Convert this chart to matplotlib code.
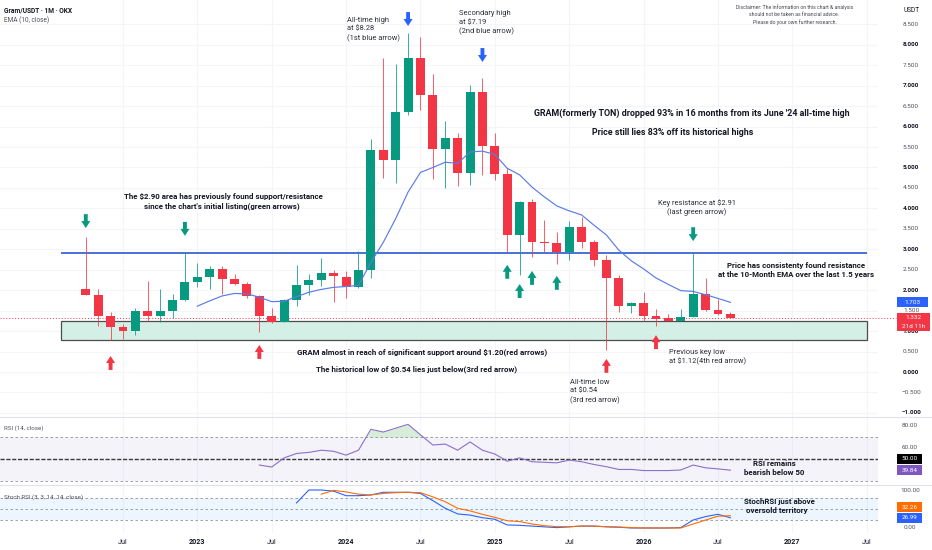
import numpy as np
import pandas as pd
import matplotlib
matplotlib.use('Agg')
import matplotlib.pyplot as plt
from matplotlib import transforms
from matplotlib.patches import Rectangle
from matplotlib.lines import Line2D

plt.rcParams['font.family'] = ['Roboto', 'DejaVu Sans']

# ---------------- data (monthly candles, Apr 2022 .. Aug 2026) ----------------
start_month = '2022-04'
opens = [2.03, 1.88, 1.37, 1.10, 1.00, 1.49, 1.37, 1.50, 1.76, 2.20, 2.32, 2.52, 2.27, 2.15, 1.86, 1.37,
         1.22, 1.76, 2.12, 2.25, 2.42, 2.32, 2.07, 2.49, 5.43, 5.18, 6.35, 7.68, 6.77, 5.44, 5.72, 4.86,
         6.84, 5.53, 4.85, 3.35, 4.15, 3.18, 3.16, 2.94, 3.54, 3.18, 2.73, 2.30, 1.62, 1.69, 1.37, 1.31,
         1.25, 1.35, 1.90, 1.52, 1.43]
highs = [3.30, 2.03, 1.47, 1.17, 1.56, 2.23, 2.03, 1.91, 2.93, 2.66, 2.60, 2.60, 2.39, 2.19, 1.88, 1.56,
         1.78, 2.62, 2.39, 2.79, 2.50, 2.47, 2.95, 5.70, 7.68, 7.53, 8.28, 8.20, 7.29, 6.14, 5.85, 7.02,
         7.19, 5.84, 4.98, 4.18, 4.22, 3.72, 3.42, 3.70, 3.79, 3.22, 2.86, 2.36, 1.72, 1.96, 1.54, 1.41,
         1.53, 2.91, 2.29, 1.79, 1.46]
lows = [1.88, 1.12, 0.78, 0.80, 0.90, 1.25, 1.22, 1.32, 1.74, 2.08, 2.04, 1.91, 2.12, 1.80, 0.98, 1.20,
        1.22, 1.61, 1.88, 2.10, 1.71, 1.82, 2.05, 2.30, 4.74, 4.62, 6.28, 6.40, 4.73, 4.49, 4.54, 4.57,
        4.82, 4.69, 2.93, 2.37, 2.81, 2.93, 2.64, 2.75, 3.02, 2.59, 0.54, 1.47, 1.44, 1.25, 1.12, 1.24,
        1.24, 1.34, 1.49, 1.40, 1.31]
closes = [1.88, 1.37, 1.10, 1.00, 1.49, 1.37, 1.50, 1.76, 2.20, 2.32, 2.52, 2.27, 2.15, 1.86, 1.37, 1.22,
          1.76, 2.12, 2.25, 2.42, 2.34, 2.07, 2.49, 5.43, 5.18, 6.35, 7.68, 6.77, 5.44, 5.72, 4.86, 6.84,
          5.53, 4.85, 3.35, 4.15, 3.18, 3.16, 2.94, 3.54, 3.18, 2.73, 2.30, 1.61, 1.69, 1.37, 1.30, 1.25,
          1.35, 1.90, 1.52, 1.43, 1.332]

ema_start = '2023-01'
ema10 = [1.61, 1.74, 1.86, 1.92, 1.91, 1.83, 1.72, 1.73, 1.84, 1.95, 2.02, 2.07, 2.09, 2.12, 2.68, 3.17,
         3.75, 4.40, 4.88, 5.00, 5.13, 5.10, 5.38, 5.40, 5.32, 4.98, 4.82, 4.52, 4.28, 4.06, 3.94, 3.84,
         3.59, 3.35, 2.98, 2.72, 2.52, 2.30, 2.14, 1.99, 1.97, 1.89, 1.80, 1.703]

rsi_start = '2023-06'
rsi14 = [44.5, 42.7, 51, 55, 56, 58, 57, 53.5, 58, 77, 74.5, 78, 81.5, 72, 62.7, 63.6, 58, 65.5, 58, 54.5,
         48, 51, 47.5, 47, 46.5, 49, 47.5, 45, 43, 40.5, 40.5, 39.5, 39.5, 39.5, 40, 44.5, 42, 41, 39.84]

k_start = '2023-09'
stoch_k = [66, 100, 100, 97, 85, 85, 87, 94, 94, 94, 91, 72, 52, 37, 34, 27, 23, 8, 7, 5, 3, 1, 3, 5, 5,
           3, 2, 0, 0, 0, 0, 1, 21, 30, 36, 26.99]
d_start = '2023-11'
stoch_d = [89, 99, 95, 89, 87, 91, 93, 94, 93, 82, 69, 52, 45, 36, 28, 19, 17, 10.5, 6, 3.5, 3.5, 5, 5,
           3.5, 2.6, 1, 0, 0, 0, 0, 10.5, 21, 31, 32.26]

resistance_level = 2.90
support_low, support_high = 0.78, 1.25
drawing_from, drawing_to = '2022-02', '2027-07'

price_ticks = [-1.0, -0.5, 0.0, 0.5, 1.0, 1.5, 2.0, 2.5, 3.0, 3.5, 4.0, 4.5, 5.0, 5.5, 6.0, 6.5, 7.0,
               7.5, 8.0, 8.5]
rsi_ticks = [60, 80]
stoch_ticks = [0, 100]
time_ticks = ['2022-07', '2023-01', '2023-07', '2024-01', '2024-07', '2025-01', '2025-07', '2026-01',
              '2026-07', '2027-01', '2027-07']
time_tick_labels = ['Jul', '2023', 'Jul', '2024', 'Jul', '2025', 'Jul', '2026', 'Jul', '2027', 'Jul']
countdown = '21d 11h'

green_down_arrows = [('2022-04', 3.52), ('2022-12', 3.33), ('2026-05', 3.20)]
green_up_arrows = [('2025-02', 2.62), ('2025-03', 2.15), ('2025-04', 2.47), ('2025-06', 2.35)]
red_up_arrows = [('2022-06', 0.39), ('2023-06', 0.66), ('2025-10', 0.32), ('2026-02', 0.90)]
blue_down_arrows = [('2024-06', 8.46), ('2024-12', 7.58)]

# ---------------- styling ----------------
GREEN = '#089981'
RED = '#F23645'
BLUE = '#2962FF'
ORANGE = '#FF6D00'
PURPLE = '#7E57C2'
GRID = '#f3f5f9'
DARK = '#131722'
TXT = '#2a2e39'

p0 = pd.Period(start_month, freq='M')


def mpos(s):
    return (pd.Period(s, freq='M') - p0).n


W, H = 932, 550
fig = plt.figure(figsize=(W / 100, H / 100), dpi=100)
fig.patch.set_facecolor('white')


def rect(x0, y0, x1, y1):
    return [x0 / W, 1 - y1 / H, (x1 - x0) / W, (y1 - y0) / H]


ax = fig.add_axes(rect(0, 0, 878, 417))
ax_rsi = fig.add_axes(rect(0, 417, 878, 485))
ax_st = fig.add_axes(rect(0, 485, 878, 533))
XL = (-6.92, 63.91)
for a in (ax, ax_rsi, ax_st):
    a.set_xlim(*XL)
    a.set_xticks([])
    a.set_yticks([])
    for s in a.spines.values():
        s.set_visible(False)
    a.set_facecolor('none')
    for t in time_ticks:
        a.axvline(mpos(t), color=GRID, lw=0.8, zorder=0)

ax.set_ylim(-1.10, 9.095)
ax_rsi.set_ylim(26.36, 88.18)
ax_st.set_ylim(-13.2, 113.2)

for p in price_ticks:
    ax.axhline(p, color=GRID, lw=0.8, zorder=0)

for yy in (417, 485):
    fig.add_artist(Line2D([0, 1], [1 - yy / H] * 2, color='#e0e3eb', lw=0.8))

# ---------------- main pane ----------------
x = np.arange(len(closes))
o = np.array(opens)
c = np.array(closes)
hi = np.array(highs)
lo = np.array(lows)
colors = np.where(c >= o, GREEN, RED)

# drawings
ax.add_patch(Rectangle((mpos(drawing_from), support_low), mpos(drawing_to) - mpos(drawing_from),
                       support_high - support_low, facecolor='#d3efe6', edgecolor='#4d4d4d', lw=0.9,
                       zorder=1))
ax.hlines(resistance_level, mpos(drawing_from), mpos(drawing_to), color='#3b66d6', lw=1.3, zorder=2)
ax.hlines(c[-1], XL[0], 65.4, color=RED, lw=0.7, linestyles=(0, (1, 2)), zorder=2, clip_on=False)

ax.vlines(x, lo, hi, colors=colors, lw=0.7, alpha=0.8, zorder=3)
body_bottom = np.minimum(o, c)
body_h = np.maximum(np.abs(c - o), 0.03)
ax.bar(x, body_h, bottom=body_bottom, width=0.72, color=colors, linewidth=0, zorder=4)

ex = mpos(ema_start) + np.arange(len(ema10))
ax.plot(ex, ema10, color='#5a7ce6', lw=0.85, zorder=5)

ALEN = 0.34


def block_arrow(month, tip, direction, color):
    tail = tip + ALEN if direction == 'down' else tip - ALEN
    ax.annotate('', xy=(mpos(month), tip), xytext=(mpos(month), tail),
                arrowprops=dict(arrowstyle='simple,head_length=0.5,head_width=0.65,tail_width=0.28',
                                color=color, shrinkA=0, shrinkB=0, mutation_scale=10, lw=0),
                zorder=6)


for m, t in green_down_arrows:
    block_arrow(m, t, 'down', GREEN)
for m, t in green_up_arrows:
    block_arrow(m, t, 'up', GREEN)
for m, t in red_up_arrows:
    block_arrow(m, t, 'up', RED)
for m, t in blue_down_arrows:
    block_arrow(m, t, 'down', BLUE)


def lines_text(axis, xx, ys, lines, size, bold=False, ha='left', color=TXT):
    for yv, s in zip(ys, lines):
        axis.text(xx, yv, s, fontsize=size, fontweight='bold' if bold else 'normal', ha=ha,
                  va='center', color=color, zorder=7)


BOLD = 5.7
REG = 5.4
lines_text(ax, 21.07, [8.606, 8.386, 8.166], ['All-time high', 'at $8.28', '(1st blue arrow)'], REG)
lines_text(ax, 30.11, [8.753, 8.526, 8.320], ['Secondary high', 'at $7.19', '(2nd blue arrow)'], REG)
lines_text(ax, 57.17, [8.917, 8.729, 8.565],
           ['Disclaimer: The information on this chart & analysis',
            'should not be taken as financial advice.',
            'Please do your own further research.'], 3.7, ha='center', color='#454852')
lines_text(ax, 48.85, [6.333], ["GRAM(formerly TON) dropped 93% in 16 months from its June '24 all-time high"],
           6.4, bold=True, ha='center', color=DARK)
lines_text(ax, 47.33, [5.844], ['Price still lies 83% off its historical highs'], 6.4, bold=True,
           ha='center', color=DARK)
lines_text(ax, 11.07, [4.279], ['The $2.90 area has previously found support/resistance'], BOLD, True,
           'center', DARK)
lines_text(ax, 10.96, [4.059], ["since the chart's initial listing(green arrows)"], BOLD, True, 'center', DARK)
lines_text(ax, 27.16, [0.489], ['GRAM almost in reach of significant support around $1.20(red arrows)'],
           BOLD, True, 'center', DARK)
lines_text(ax, 26.64, [0.073], ['The historical low of $0.54 lies just below(3rd red arrow)'], BOLD, True,
           'center', DARK)
lines_text(ax, 39.06, [-0.252, -0.465, -0.685], ['All-time low', 'at $0.54', '(3rd red arrow)'], REG)
lines_text(ax, 47.05, [0.472, 0.252], ['Previous key low', 'at $1.12(4th red arrow)'], REG)
lines_text(ax, 49.31, [4.139, 3.919], ['Key resistance at $2.91', '(last green arrow)'], REG, ha='center')
lines_text(ax, 57.33, [2.616, 2.396], ['Price has consistenty found resistance',
                                      'at the 10-Month EMA over the last 1.5 years'], BOLD, True, 'center',
           DARK)

ax.text(4 / 878, 0.976, 'Gram/USDT · 1M · OKX', transform=ax.transAxes, fontsize=4.8, fontweight='bold',
        color=DARK, va='center')
ax.text(4 / 878, 0.950, 'EMA (10, close)', transform=ax.transAxes, fontsize=4.7, color='#50535e',
        va='center')

# ---------------- RSI pane ----------------
ax_rsi.axhspan(30, 70, color=PURPLE, alpha=0.07, lw=0, zorder=0)
for lv in (70, 30):
    ax_rsi.axhline(lv, color='#8f929b', lw=0.6, ls=(0, (3, 3)), zorder=1)
ax_rsi.axhline(50, color='#3a3a3a', lw=1.0, ls=(0, (3, 1.2)), zorder=1)
rx = mpos(rsi_start) + np.arange(len(rsi14))
r_arr = np.array(rsi14)
ax_rsi.fill_between(rx, r_arr, 70, where=r_arr > 70, interpolate=True, color='#4caf50', alpha=0.22,
                    lw=0, zorder=1)
ax_rsi.plot(rx, rsi14, color='#8a70c8', lw=0.8, zorder=3)
ax_rsi.text(4 / 878, 0.838, 'RSI (14, close)', transform=ax_rsi.transAxes, fontsize=4.5, color='#50535e',
            va='center')
lines_text(ax_rsi, 55.52, [46.1, 37.9], ['RSI remains', 'bearish below 50'], BOLD, True, 'center', DARK)

# ---------------- Stoch RSI pane ----------------
ax_st.axhspan(20, 80, color='#2196F3', alpha=0.08, lw=0, zorder=0)
for lv in (80, 50, 20):
    ax_st.axhline(lv, color='#8f929b', lw=0.6, ls=(0, (3, 3)), zorder=1)
kx = mpos(k_start) + np.arange(len(stoch_k))
dx = mpos(d_start) + np.arange(len(stoch_d))
ax_st.plot(kx, stoch_k, color=BLUE, lw=0.8, zorder=3)
ax_st.plot(dx, stoch_d, color=ORANGE, lw=0.8, zorder=3)
ax_st.text(4 / 878, 0.75, 'Stoch RSI (3, 3, 14, 14, close)', transform=ax_st.transAxes, fontsize=4.5,
           color='#50535e', va='center')
lines_text(ax_st, 55.92, [69.2], ['StochRSI just above'], BOLD, True, 'center', DARK)
lines_text(ax_st, 55.76, [45.5], ['oversold territory'], BOLD, True, 'center', DARK)

# ---------------- scales ----------------
tr_main = transforms.blended_transform_factory(fig.transFigure, ax.transData)
for p in price_ticks:
    major = abs(p - round(p)) < 1e-9
    ax.text(911 / W, p, f'{p:.3f}'.replace('-', '\u2212'), transform=tr_main, ha='center', va='center',
            fontsize=4.6, color=DARK if major else '#50535e', fontweight='bold' if major else 'normal',
            clip_on=False)
tr_rsi = transforms.blended_transform_factory(fig.transFigure, ax_rsi.transData)
for r in rsi_ticks:
    ax_rsi.text(910 / W, r, f'{r:.2f}', transform=tr_rsi, ha='center', va='center', fontsize=4.6,
                color='#50535e', clip_on=False)
tr_st = transforms.blended_transform_factory(fig.transFigure, ax_st.transData)
for s in stoch_ticks:
    ax_st.text(910 / W, s, f'{s:.2f}', transform=tr_st, ha='center', va='center', fontsize=4.6,
               color='#50535e', clip_on=False)
fig.text(912 / W, 1 - 10 / H, 'USDT', ha='center', va='center', fontsize=4.7, color=DARK)

tr_time = transforms.blended_transform_factory(ax_st.transData, fig.transFigure)
for t, lab in zip(time_ticks, time_tick_labels):
    is_year = lab.isdigit()
    ax_st.text(mpos(t), 1 - 542 / H, lab, transform=tr_time, ha='center', va='center', fontsize=5.1,
               fontweight='bold' if is_year else 'normal', color=DARK, clip_on=False)

# ---------------- value tags ----------------
ident = transforms.IdentityTransform()


def tag(yd, lines, fc, x0, x1, line_h=8.5):
    n = len(lines)
    top = yd + 5
    bottom = yd - 5 - (n - 1) * line_h
    fig.add_artist(Rectangle((x0, bottom), x1 - x0, top - bottom, transform=ident, facecolor=fc,
                             edgecolor='none', zorder=10))
    for k, s in enumerate(lines):
        fig.text((x0 + x1) / 2, yd - k * line_h, s, transform=ident, ha='center', va='center',
                 fontsize=4.6, color='white', zorder=11)


def disp_y(axis, v):
    return axis.transData.transform((0, v))[1]


tag(disp_y(ax, ema10[-1]), [f'{ema10[-1]:.3f}'], BLUE, 897, 928)
tag(disp_y(ax, closes[-1]), [f'{closes[-1]:.3f}', countdown], RED, 897, 930)
tag(disp_y(ax_rsi, 50), ['50.00'], '#000000', 897, 922)
tag(disp_y(ax_rsi, rsi14[-1]), [f'{rsi14[-1]:.2f}'], PURPLE, 897, 922)
yk = disp_y(ax_st, stoch_k[-1])
yd_ = max(disp_y(ax_st, stoch_d[-1]), yk + 10.5)
tag(yd_, [f'{stoch_d[-1]:.2f}'], ORANGE, 897, 922)
tag(yk, [f'{stoch_k[-1]:.2f}'], BLUE, 897, 922)

fig.savefig('out.png', dpi=100, facecolor='white')
